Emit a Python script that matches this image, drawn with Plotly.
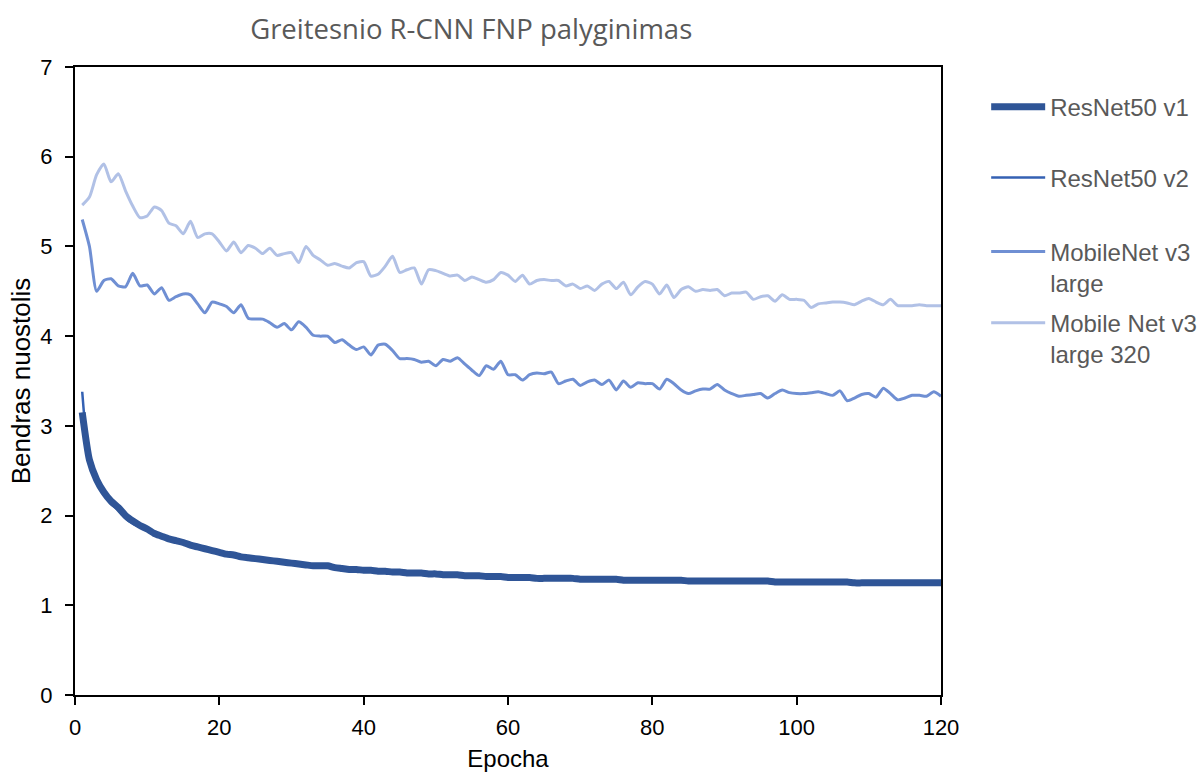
import plotly.graph_objects as go

epochs = list(range(1, 121))

resnet50_v1 = [
    3.15, 2.62, 2.40, 2.26, 2.16, 2.09, 2.00, 1.94, 1.89, 1.85,
    1.80, 1.77, 1.74, 1.72, 1.70, 1.67, 1.65, 1.63, 1.61, 1.59,
    1.57, 1.56, 1.54, 1.53, 1.52, 1.51, 1.50, 1.49, 1.48, 1.47,
    1.46, 1.45, 1.44, 1.44, 1.44, 1.42, 1.41, 1.40, 1.40, 1.39,
    1.39, 1.38, 1.38, 1.37, 1.37, 1.36, 1.36, 1.36, 1.35, 1.35,
    1.34, 1.34, 1.34, 1.33, 1.33, 1.33, 1.32, 1.32, 1.32, 1.31,
    1.31, 1.31, 1.31, 1.30, 1.30, 1.30, 1.30, 1.30, 1.30, 1.29,
    1.29, 1.29, 1.29, 1.29, 1.29, 1.28, 1.28, 1.28, 1.28, 1.28,
    1.28, 1.28, 1.28, 1.28, 1.27, 1.27, 1.27, 1.27, 1.27, 1.27,
    1.27, 1.27, 1.27, 1.27, 1.27, 1.27, 1.26, 1.26, 1.26, 1.26,
    1.26, 1.26, 1.26, 1.26, 1.26, 1.26, 1.26, 1.25, 1.25, 1.25,
    1.25, 1.25, 1.25, 1.25, 1.25, 1.25, 1.25, 1.25, 1.25, 1.25,
]

resnet50_v2 = [
    3.38, 2.58, 2.38, 2.24, 2.13, 2.06, 1.97, 1.91, 1.87, 1.83,
    1.79, 1.76, 1.73, 1.71, 1.69, 1.67, 1.64, 1.62, 1.60, 1.58,
    1.57, 1.55, 1.54, 1.53, 1.52, 1.50, 1.50, 1.48, 1.47, 1.47,
    1.45, 1.45, 1.44, 1.43, 1.44, 1.42, 1.41, 1.41, 1.40, 1.39,
    1.38, 1.38, 1.37, 1.37, 1.36, 1.36, 1.36, 1.35, 1.35, 1.34,
    1.34, 1.34, 1.33, 1.33, 1.33, 1.32, 1.32, 1.32, 1.31, 1.31,
    1.31, 1.30, 1.30, 1.30, 1.30, 1.30, 1.29, 1.29, 1.29, 1.29,
    1.29, 1.29, 1.28, 1.28, 1.28, 1.28, 1.28, 1.28, 1.27, 1.28,
    1.27, 1.27, 1.27, 1.27, 1.27, 1.27, 1.27, 1.26, 1.26, 1.26,
    1.26, 1.26, 1.26, 1.26, 1.26, 1.26, 1.26, 1.25, 1.25, 1.25,
    1.25, 1.25, 1.25, 1.25, 1.25, 1.25, 1.25, 1.25, 1.24, 1.24,
    1.24, 1.24, 1.24, 1.24, 1.24, 1.24, 1.24, 1.24, 1.24, 1.24,
]

mobilenet_v3_large = [
    5.30, 5.00, 4.50, 4.62, 4.64, 4.56, 4.55, 4.70, 4.56, 4.57,
    4.47, 4.54, 4.40, 4.44, 4.47, 4.46, 4.36, 4.26, 4.38, 4.36,
    4.33, 4.26, 4.35, 4.20, 4.19, 4.19, 4.15, 4.10, 4.14, 4.07,
    4.16, 4.10, 4.01, 4.00, 4.00, 3.93, 3.96, 3.90, 3.85, 3.88,
    3.79, 3.90, 3.91, 3.84, 3.75, 3.75, 3.74, 3.71, 3.72, 3.67,
    3.74, 3.72, 3.76, 3.69, 3.62, 3.56, 3.67, 3.63, 3.72, 3.57,
    3.57, 3.51, 3.57, 3.59, 3.58, 3.60, 3.47, 3.50, 3.52, 3.45,
    3.49, 3.51, 3.46, 3.51, 3.40, 3.50, 3.43, 3.48, 3.47, 3.47,
    3.41, 3.52, 3.47, 3.40, 3.36, 3.39, 3.41, 3.41, 3.46, 3.40,
    3.36, 3.33, 3.34, 3.35, 3.36, 3.31, 3.36, 3.40, 3.37, 3.36,
    3.36, 3.37, 3.38, 3.36, 3.34, 3.39, 3.28, 3.31, 3.35, 3.36,
    3.32, 3.42, 3.36, 3.29, 3.31, 3.34, 3.34, 3.33, 3.38, 3.33,
]

mobilenet_v3_large_320 = [
    5.46, 5.55, 5.80, 5.92, 5.72, 5.81, 5.62, 5.45, 5.32, 5.34,
    5.44, 5.40, 5.26, 5.23, 5.14, 5.28, 5.10, 5.14, 5.14, 5.05,
    4.95, 5.05, 4.93, 5.01, 4.98, 4.92, 4.98, 4.90, 4.92, 4.93,
    4.82, 5.00, 4.90, 4.85, 4.79, 4.81, 4.78, 4.76, 4.82, 4.83,
    4.67, 4.69, 4.78, 4.89, 4.71, 4.74, 4.76, 4.58, 4.74, 4.73,
    4.70, 4.67, 4.68, 4.62, 4.66, 4.63, 4.60, 4.63, 4.71, 4.68,
    4.61, 4.68, 4.58, 4.62, 4.63, 4.62, 4.62, 4.56, 4.58, 4.53,
    4.56, 4.51, 4.58, 4.61, 4.53, 4.60, 4.46, 4.55, 4.61, 4.58,
    4.47, 4.57, 4.43, 4.52, 4.55, 4.50, 4.52, 4.51, 4.52, 4.45,
    4.48, 4.48, 4.49, 4.41, 4.44, 4.45, 4.39, 4.46, 4.41, 4.41,
    4.40, 4.32, 4.36, 4.37, 4.38, 4.38, 4.37, 4.35, 4.39, 4.42,
    4.38, 4.35, 4.41, 4.34, 4.34, 4.34, 4.35, 4.34, 4.34, 4.34,
]

series_names = ["ResNet50 v1", "ResNet50 v2", "MobileNet v3<br>large", "Mobile Net v3<br>large 320"]
series_values = [resnet50_v1, resnet50_v2, mobilenet_v3_large, mobilenet_v3_large_320]
series_colors = ["#2F5597", "#3461B3", "#6F8FD3", "#B1C1E6"]
series_widths = [7, 2.5, 3, 3]

x_ticks = [0, 20, 40, 60, 80, 100, 120]
y_ticks = [0, 1, 2, 3, 4, 5, 6, 7]

legend_ids = ["legend", "legend2", "legend3", "legend4"]
legend_tops = [0.8905, 0.7986, 0.7027, 0.6107]

fig = go.Figure()
draw_order = [3, 2, 1, 0]
for i in draw_order:
    fig.add_trace(go.Scatter(
        x=epochs, y=series_values[i], name=series_names[i], mode="lines",
        line=dict(color=series_colors[i], width=series_widths[i], shape="spline", smoothing=0.6),
        legend=legend_ids[i],
    ))

axis_font = dict(family="Liberation Sans, Arial, sans-serif", size=22, color="#000000")
legend_font = dict(family="Liberation Sans, Arial, sans-serif", size=24, color="#595959")

layout_legends = {}
for lid, top in zip(legend_ids, legend_tops):
    layout_legends[lid] = dict(xref="container", yref="container", x=0.8225, xanchor="left",
                               y=top, yanchor="top", valign="top",
                               font=legend_font, itemwidth=54, bgcolor="rgba(0,0,0,0)")

fig.update_layout(
    width=1199, height=772,
    margin=dict(l=75, r=258, t=67, b=77, autoexpand=False),
    paper_bgcolor="white", plot_bgcolor="white",
    title=dict(text="Greitesnio R-CNN FNP palyginimas", x=0.393, xanchor="center", y=0.962, yanchor="middle",
               font=dict(family="Open Sans, sans-serif", size=27.5, color="#595959")),
    showlegend=True,
    xaxis=dict(range=[0, 120], tickvals=x_ticks, ticks="outside", ticklen=8, tickwidth=1.5,
               tickcolor="#000", showline=True, linecolor="#000", linewidth=2, mirror=True,
               showgrid=False, zeroline=False, tickfont=axis_font, ticklabelstandoff=4,
               automargin=False,
               title=dict(text="Epocha", font=dict(axis_font, size=24), standoff=12)),
    yaxis=dict(range=[0, 7], tickvals=y_ticks, ticks="outside", ticklen=8, tickwidth=1.5,
               tickcolor="#000", showline=True, linecolor="#000", linewidth=2, mirror=True,
               showgrid=False, zeroline=False, tickfont=axis_font, ticklabelstandoff=8,
               automargin=False,
               title=dict(text="Bendras nuostolis", font=dict(axis_font, size=26), standoff=2)),
    **layout_legends,
)

fig.write_html("out.html")
